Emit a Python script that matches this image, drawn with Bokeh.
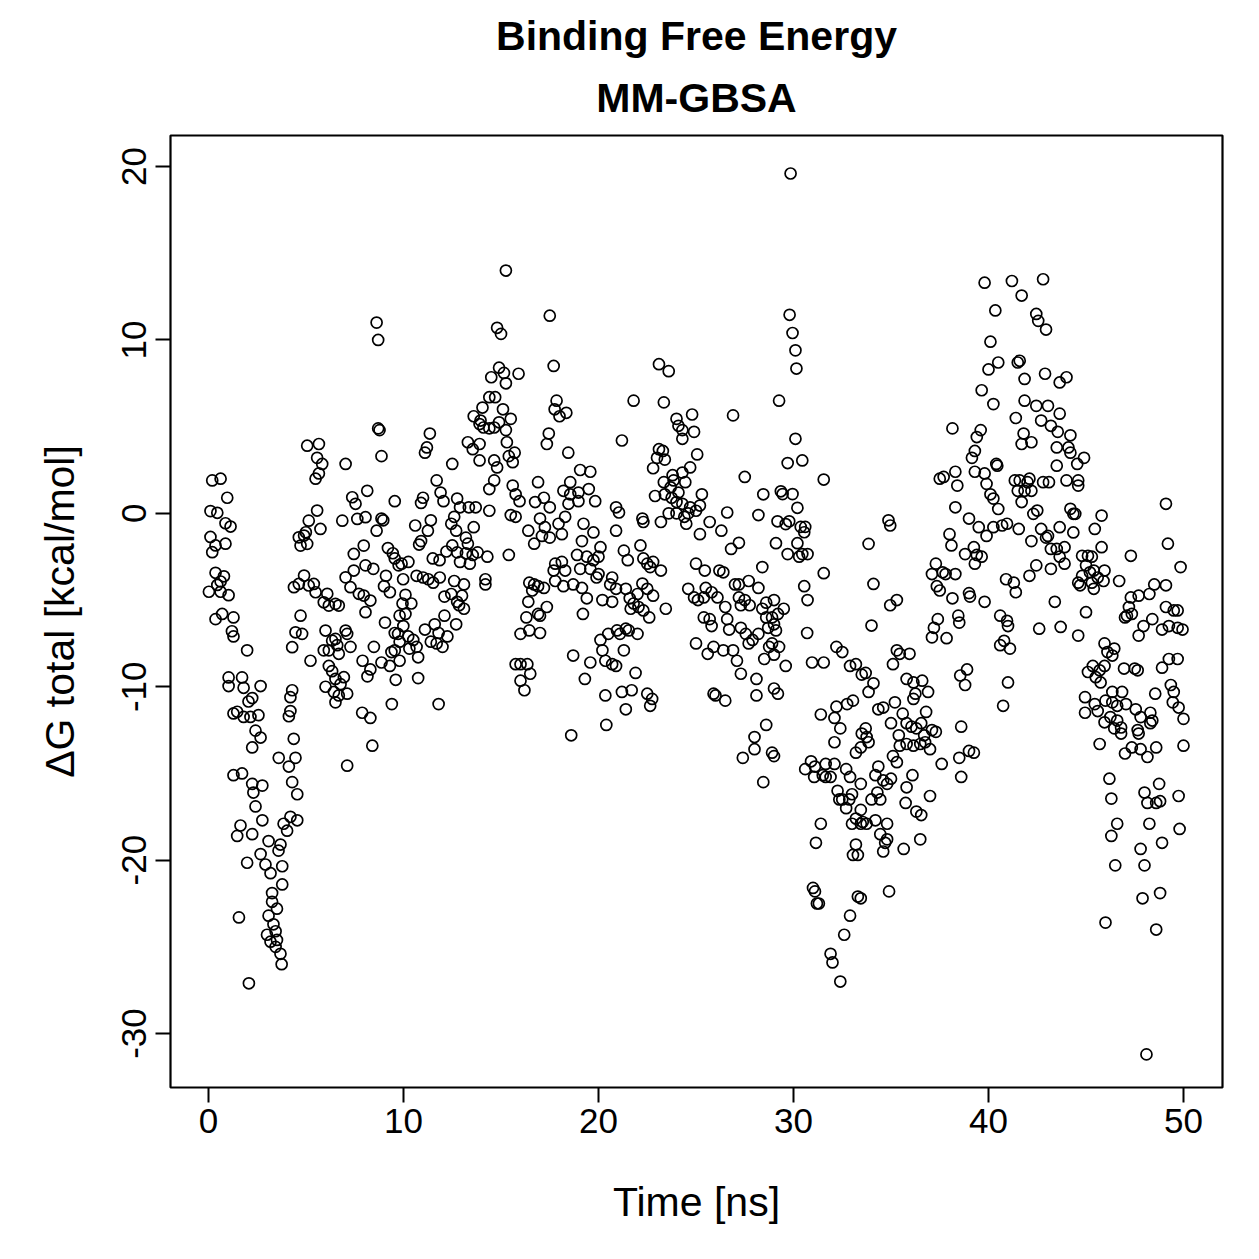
from bokeh.plotting import figure
from bokeh.models import Range1d, FixedTicker, Title, ColumnDataSource
from bokeh.embed import file_html
from bokeh.resources import INLINE

# (time [ns], dG total [kcal/mol]), grouped by 10 ns
seg_00_10 = [
    (0.19, 1.9), (0.62, 2.0), (0.96, 0.9), (0.10, 0.13), (0.45, 0.03), (0.87, -0.57), (1.13, -0.76), (0.10, -1.36),
    (0.36, -1.85), (0.87, -1.75), (0.19, -2.24), (0.36, -3.43), (0.79, -3.63), (0.62, -3.93), (0.45, -4.13),
    (0.02, -4.52), (1.03, -4.72), (0.62, -4.52), (0.36, -6.1), (0.70, -5.8), (1.28, -6.0), (1.20, -6.8), (1.28, -7.1),
    (1.98, -7.9), (1.03, -9.46), (1.72, -9.46), (2.67, -9.96), (1.03, -9.96), (1.80, -10.06), (2.24, -10.65),
    (2.05, -10.85), (1.47, -11.44), (1.28, -11.54), (1.80, -11.74), (2.15, -11.74), (2.56, -11.64), (2.41, -12.53),
    (2.67, -12.93), (2.24, -13.5), (3.60, -14.1), (1.28, -15.1), (1.72, -15.0), (2.24, -15.6), (2.30, -16.1),
    (2.76, -15.7), (2.41, -16.9), (1.64, -18.0), (2.76, -17.7), (3.85, -17.9), (2.24, -18.5), (1.47, -18.6),
    (3.08, -18.9), (3.69, -19.1), (3.59, -19.45), (2.67, -19.65), (1.98, -20.15), (2.92, -20.25), (3.18, -20.75),
    (3.78, -20.35), (3.78, -21.4), (3.26, -21.9), (3.26, -22.4), (3.51, -22.8), (1.56, -23.3), (3.08, -23.2),
    (3.33, -23.7), (3.00, -24.3), (3.44, -24.1), (3.18, -24.7), (3.51, -24.6), (3.44, -25.0), (3.69, -25.4),
    (2.07, -27.1), (3.75, -26.0),
    (5.06, 3.9), (5.66, 4.0), (7.03, 2.85), (5.57, 3.2), (5.83, 2.85), (5.49, 2.0), (5.66, 2.3), (8.14, 1.3),
    (7.37, 0.93), (7.54, 0.55), (6.86, -0.42), (7.63, -0.32), (8.05, -0.22), (5.57, 0.16), (5.14, -0.42),
    (5.74, -0.9), (4.99, -1.09), (4.90, -1.28), (4.72, -1.86), (5.06, -1.76), (4.63, -1.38), (7.96, -1.86),
    (7.45, -2.34), (7.03, -3.69), (7.45, -3.3), (8.05, -3.0), (8.45, -3.2), (4.63, -4.07), (4.90, -3.59),
    (5.14, -4.16), (5.40, -4.07), (5.49, -4.55), (7.28, -4.26), (7.71, -4.64), (4.38, -4.26), (6.09, -4.64),
    (5.91, -5.13), (6.17, -5.32), (6.51, -5.22), (6.68, -5.32), (7.96, -4.74), (8.30, -5.03), (8.05, -5.7),
    (4.72, -5.9), (4.46, -6.86), (4.80, -6.95), (4.29, -7.72), (5.23, -8.5), (6.00, -6.76), (6.34, -7.34),
    (6.51, -7.24), (7.03, -6.76), (7.11, -6.95), (5.91, -7.9), (6.17, -7.9), (6.60, -7.6), (6.68, -8.1),
    (7.28, -7.7), (8.48, -7.7), (6.17, -8.8), (6.51, -9.55), (6.94, -9.45), (6.77, -9.85), (6.00, -10.0),
    (6.43, -10.3), (6.68, -10.5), (6.51, -10.9), (7.11, -10.4), (6.34, -9.1), (7.90, -8.5), (8.30, -9.0),
    (8.15, -9.4), (8.40, -13.4), (7.11, -14.55), (4.29, -10.2), (4.20, -10.6), (4.20, -11.4), (4.12, -11.7),
    (4.37, -13.0), (4.46, -14.1), (4.12, -14.6), (4.29, -15.5), (4.55, -16.2), (4.20, -17.5), (4.55, -17.7),
    (4.03, -18.3), (7.88, -11.5), (8.30, -11.8),
    (8.62, 11.0), (8.70, 10.0), (8.70, 4.9), (8.77, 4.8), (8.87, 3.3), (9.55, 0.7), (8.87, -0.3), (8.96, -0.4),
    (8.62, -1.0), (9.20, -2.0), (9.45, -2.3), (9.55, -2.6), (9.90, -2.9), (9.75, -3.0), (9.10, -3.6), (9.00, -4.2),
    (9.30, -4.55), (9.98, -3.8), (9.95, -5.2), (9.80, -5.9), (9.99, -6.5), (9.05, -6.3), (9.55, -6.9), (9.72, -6.95),
    (9.80, -7.4), (9.55, -7.9), (9.38, -8.0), (8.87, -8.6), (9.30, -8.8), (9.80, -8.5), (9.60, -9.6), (9.40, -11.0),
]

seg_10_20 = [
    (10.25, -2.8), (10.67, -3.6), (11.0, -3.7), (11.27, -3.8), (11.52, -4.0), (11.86, -3.7), (10.1, -4.7),
    (10.4, -5.2), (10.1, -5.8), (10.24, -7.1), (10.5, -7.3), (10.67, -7.7), (10.3, -7.8), (10.75, -8.3),
    (10.75, -9.5), (11.8, -11.0), (11.35, 4.6), (11.2, 3.8), (11.1, 3.5), (11.7, 1.9), (11.9, 1.2), (12.05, 0.7),
    (11.0, 0.9), (10.9, 0.6), (11.4, -0.4), (10.6, -0.7), (10.9, -1.6), (10.8, -1.8), (11.25, -1.0), (11.5, -2.6),
    (11.85, -2.7), (12.2, -2.2), (12.1, -5.9), (12.1, -4.8), (11.6, -6.4), (11.8, -6.9), (11.1, -6.7), (11.4, -7.4),
    (11.7, -7.5), (12.0, -7.7),
    (15.25, 14.0), (14.8, 10.7), (15.0, 10.35), (14.9, 8.4), (14.5, 7.85), (15.15, 8.1), (15.25, 7.5), (15.9, 8.05),
    (14.4, 6.7), (14.7, 6.7), (14.05, 6.1), (15.1, 6.0), (13.6, 5.6), (13.95, 5.35), (14.1, 4.95), (14.4, 4.9),
    (14.65, 4.95), (14.9, 5.25), (15.5, 5.45), (15.25, 4.8), (13.9, 5.15), (15.3, 4.1), (13.3, 4.1), (13.55, 3.7),
    (13.9, 4.0), (13.9, 3.05), (15.7, 3.5), (15.4, 3.3), (15.6, 2.95), (14.65, 3.05), (14.8, 2.65), (14.65, 1.9),
    (14.4, 1.4), (15.6, 1.6), (15.75, 1.1), (15.95, 0.7), (15.5, -0.1), (15.75, -0.2), (12.5, 2.85), (12.75, 0.85),
    (12.9, 0.35), (13.35, 0.35), (13.7, 0.35), (14.4, 0.15), (12.6, -0.2), (12.45, -0.6), (12.7, -1.0), (13.6, -0.8),
    (13.2, -1.4), (13.3, -1.75), (12.5, -1.85), (12.75, -2.25), (13.2, -2.3), (13.55, -2.4), (13.8, -2.25),
    (14.3, -2.5), (15.4, -2.4), (12.9, -2.8), (13.4, -2.9), (16.45, -4.0), (16.7, -4.1), (16.6, -4.45), (14.2, -3.8),
    (14.2, -4.1), (12.6, -3.9), (13.1, -4.1), (12.45, -4.65), (13.0, -4.75), (12.75, -5.1), (12.85, -5.3),
    (13.1, -5.5), (12.7, -6.4), (12.25, -7.1), (16.4, -5.1), (16.3, -6.0), (16.9, -5.8), (16.0, -6.95),
    (16.45, -6.75), (15.75, -8.7), (16.0, -8.7), (16.35, -8.7), (16.5, -9.25), (16.0, -9.65), (16.2, -10.2),
    (16.4, -1.0),
    (17.5, 11.4), (17.7, 8.5), (17.85, 6.5), (17.75, 6.0), (18.0, 5.6), (18.35, 5.8), (17.45, 4.6), (17.35, 4.0),
    (18.45, 3.5), (16.75, 0.65), (17.2, 0.9), (17.5, 0.35), (17.0, -0.3), (17.25, -0.8), (19.06, 2.5), (19.58, 2.4),
    (18.55, 1.8), (18.2, 1.3), (18.55, 1.1), (18.97, 1.2), (19.5, 1.4), (19.83, 0.7), (18.97, 0.7), (18.46, 0.55),
    (18.29, -0.2), (19.23, -0.6), (19.74, -1.1), (17.95, -0.6), (18.12, -1.2), (16.9, 1.8), (16.7, -1.75),
    (17.1, -1.3), (17.5, -1.4), (19.15, -1.6), (18.9, -2.4), (19.4, -2.5), (19.74, -2.7), (19.58, -3.2),
    (19.9, -3.7), (17.78, -2.9), (18.12, -2.8), (17.7, -3.3), (18.29, -3.3), (19.06, -3.2), (16.9, -4.2),
    (17.2, -4.3), (17.78, -3.9), (18.2, -4.2), (18.7, -4.1), (19.15, -4.3), (19.4, -4.9), (17.0, -5.9),
    (17.35, -5.4), (17.0, -6.9), (19.2, -5.8), (18.7, -8.2), (19.58, -8.6), (19.3, -9.55), (18.6, -12.8),
]

seg_20_30 = [
    (20.1, -1.95), (20.0, -2.5), (20.0, -3.5), (20.2, -5.0), (20.6, -4.1), (20.7, -5.1), (20.1, -7.3),
    (20.5, -6.95), (20.2, -7.9), (20.35, -8.5), (20.35, -10.5), (20.4, -12.2),
    (23.1, 8.6), (23.6, 8.2), (21.8, 6.5), (23.35, 6.4), (24.0, 5.45), (24.8, 5.7), (24.1, 5.05), (24.3, 4.8),
    (24.9, 4.7), (24.3, 4.3), (21.2, 4.2), (23.1, 3.7), (23.3, 3.6), (23.0, 3.2), (23.4, 3.1), (22.8, 2.6),
    (24.7, 2.65), (24.3, 2.35), (23.8, 2.2), (23.85, 1.9), (24.45, 1.8), (23.35, 1.8), (23.7, 1.5), (24.1, 1.2),
    (23.4, 1.1), (23.75, 0.9), (22.9, 1.0), (24.0, 0.65), (24.3, 0.55), (24.7, 0.35), (23.6, 0.0), (24.0, 0.0),
    (24.4, -0.2), (24.6, 0.0), (24.5, -0.6), (23.2, -0.5), (20.9, 0.35), (21.05, 0.05), (20.9, -1.0),
    (22.25, -0.3), (22.3, -0.5), (22.15, -1.85), (21.3, -2.15), (21.5, -2.7), (22.3, -2.6), (22.5, -2.9),
    (22.8, -2.8), (22.65, -3.1), (23.2, -3.3), (20.7, -3.7), (20.9, -4.35), (21.4, -4.35), (21.6, -4.9),
    (22.0, -4.65), (22.25, -4.05), (22.5, -4.35), (22.8, -4.75), (21.8, -5.2), (22.05, -5.4), (21.65, -5.5),
    (22.3, -5.6), (22.6, -6.0), (23.45, -5.5), (20.95, -6.75), (21.1, -6.95), (21.4, -6.65), (21.55, -6.75),
    (22.0, -6.95), (21.3, -7.9), (20.7, -8.7), (20.9, -8.8), (21.9, -9.2), (21.2, -10.3), (21.7, -10.2),
    (22.5, -10.4), (22.75, -10.7), (22.65, -11.1), (21.4, -11.3), (24.6, -4.35), (24.9, -4.85),
    (25.06, 3.4), (26.9, 5.65), (27.5, 2.1), (28.45, 1.1), (25.3, 1.1), (25.2, 0.45), (25.0, 0.15), (25.7, -0.5),
    (26.3, -1.0), (26.6, 0.05), (25.2, -1.2), (28.2, -0.1), (27.2, -1.7), (26.8, -2.05), (28.4, -3.1), (25.0, -2.9),
    (25.45, -3.3), (26.2, -3.3), (26.4, -3.4), (27.0, -4.1), (27.2, -4.1), (27.7, -3.9), (28.2, -4.3), (25.5, -4.3),
    (25.8, -4.55), (25.4, -4.85), (26.1, -4.85), (25.1, -5.0), (26.5, -5.4), (27.2, -4.85), (27.5, -5.0),
    (27.75, -5.3), (28.4, -5.5), (28.6, -5.15), (29.0, -5.0), (28.9, -6.0), (28.6, -6.0), (27.3, -5.3), (25.4, -6.0),
    (25.7, -6.1), (25.8, -6.5), (26.6, -6.1), (26.7, -6.7), (27.3, -6.6), (27.55, -6.95), (27.7, -7.5), (27.9, -7.3),
    (28.2, -6.95), (28.75, -7.7), (28.9, -7.5), (28.7, -6.6), (25.0, -7.5), (25.6, -8.1), (25.9, -7.7), (26.4, -7.9),
    (26.9, -7.9), (27.1, -8.5), (27.3, -9.25), (28.1, -9.55), (28.5, -8.4), (25.9, -10.4), (26.0, -10.5),
    (26.5, -10.8), (28.1, -10.5), (29.0, -10.1), (28.6, -12.2), (28.0, -12.9), (28.0, -13.6), (28.9, -13.8),
    (27.4, -14.1), (28.45, -15.5),
    (29.85, 19.6), (29.8, 11.45), (29.95, 10.4), (29.26, 6.5), (29.7, 2.9), (29.35, 1.27), (29.44, 1.11),
    (29.95, 1.11), (29.18, -0.46), (29.6, -0.62), (29.78, -0.46), (29.1, -1.72), (29.7, -2.35), (29.5, -5.5),
    (29.2, -5.8), (29.0, -6.4), (29.1, -6.75), (29.26, -7.7), (29.0, -8.15), (29.6, -8.8), (29.2, -10.4),
    (29.0, -14.0),
]

seg_30_40 = [
    (30.1, 9.4), (30.15, 8.35), (30.1, 4.3), (30.45, 3.05), (31.55, 1.95), (30.2, 0.32), (30.6, -0.78),
    (30.37, -0.78), (30.55, -1.09), (30.2, -1.72), (30.29, -2.5), (30.45, -2.35), (30.72, -2.35), (31.55, -3.45),
    (30.55, -4.2), (30.72, -5.0), (30.7, -6.9), (32.2, -7.7), (32.5, -8.0), (32.9, -8.8), (30.95, -8.6),
    (31.55, -8.6), (33.5, -9.3), (32.2, -11.15), (32.1, -11.8), (32.75, -11.0), (31.4, -11.6), (32.4, -12.4),
    (32.1, -13.2), (33.5, -12.7), (33.45, -13.5), (30.9, -14.3), (30.6, -14.75), (31.1, -14.6), (31.65, -14.45),
    (31.06, -15.2), (31.5, -15.1), (31.65, -15.2), (31.9, -15.2), (32.1, -14.45), (33.2, -13.8), (32.7, -14.75),
    (32.9, -15.2), (32.26, -16.0), (32.5, -16.5), (32.35, -16.5), (32.86, -16.5), (33.0, -16.2), (32.7, -17.0),
    (33.45, -17.1), (33.2, -17.6), (33.0, -17.9), (33.45, -17.9), (31.4, -17.9), (31.15, -19.0), (31.0, -21.6),
    (31.1, -21.8), (31.2, -22.5), (31.3, -22.5), (33.3, -22.1), (33.45, -22.2), (32.9, -23.2), (32.6, -24.3),
    (31.9, -25.4), (32.0, -25.9), (32.4, -27.0),
    (34.87, -0.4), (34.96, -0.7), (33.85, -1.76), (34.1, -4.07), (34.96, -5.3), (35.3, -5.0), (34.0, -6.47),
    (37.3, -2.9), (37.1, -3.5), (37.35, -4.2), (37.5, -4.45), (37.4, -6.1), (37.2, -6.6), (37.1, -7.15),
    (35.3, -7.9), (35.45, -8.1), (35.95, -8.1), (35.1, -8.7), (33.7, -9.2), (33.2, -8.7), (34.1, -9.8),
    (33.85, -10.3), (34.35, -11.3), (34.6, -11.2), (33.05, -10.8), (35.8, -9.55), (36.15, -9.75), (36.6, -9.65),
    (36.9, -10.3), (36.25, -10.4), (36.15, -10.7), (35.2, -10.9), (35.6, -11.55), (36.8, -11.45), (35.0, -12.1),
    (35.4, -12.8), (35.8, -12.1), (36.05, -12.3), (36.3, -12.4), (36.55, -12.1), (36.7, -12.8), (37.1, -12.5),
    (37.3, -12.6), (35.8, -13.3), (36.15, -13.4), (36.5, -13.3), (36.75, -13.2), (37.0, -13.6), (35.45, -13.4),
    (37.6, -14.45), (35.1, -14.0), (35.3, -14.35), (33.7, -12.4), (33.75, -12.9), (33.85, -13.2), (34.35, -14.6),
    (34.2, -15.1), (34.6, -15.4), (34.8, -15.6), (35.0, -15.3), (36.1, -15.1), (35.8, -15.8), (35.75, -16.7),
    (34.3, -16.1), (34.0, -16.5), (34.45, -16.5), (33.45, -15.6), (37.0, -16.3), (36.3, -17.2), (36.55, -17.4),
    (33.55, -17.8), (33.75, -17.9), (34.2, -17.7), (34.8, -17.9), (34.45, -18.5), (34.8, -18.8), (34.7, -19.0),
    (34.6, -19.5), (35.65, -19.35), (36.5, -18.8), (33.2, -19.1), (33.05, -19.7), (33.3, -19.7), (34.9, -21.8),
    (39.8, 13.3), (38.15, 4.9), (39.6, 4.8), (39.4, 4.4), (39.3, 3.6), (39.15, 3.2), (37.5, 2.0), (37.7, 2.1),
    (38.3, 2.4), (38.4, 1.6), (39.3, 2.4), (39.8, 2.3), (39.9, 1.7), (39.65, 7.1), (38.3, 0.35), (39.0, -0.3),
    (39.5, -0.8), (39.9, -1.3), (38.0, -1.2), (38.1, -1.85), (38.8, -2.35), (39.25, -1.95), (39.4, -2.4),
    (39.3, -2.9), (39.65, -2.5), (37.65, -3.4), (37.8, -3.5), (38.3, -3.5), (38.15, -4.9), (39.0, -4.6),
    (39.05, -4.8), (39.8, -5.1), (37.85, -7.2), (38.45, -5.9), (38.5, -6.3), (38.9, -9.0), (38.55, -9.35),
    (38.8, -9.9), (38.6, -12.3), (39.0, -13.7), (39.25, -13.8), (38.5, -14.1), (38.6, -15.2),
]

seg_40_50 = [
    (41.2, 13.4), (41.7, 12.56), (40.35, 11.7), (40.1, 9.9), (40.0, 8.3), (40.5, 8.7), (41.5, 8.7), (40.25, 6.3),
    (41.4, 5.5), (41.8, 4.6), (40.4, 2.85), (40.45, 2.75), (40.1, 1.1), (40.25, 0.85), (40.5, 0.25), (41.35, 1.9),
    (41.5, 1.3), (41.7, 0.65), (40.25, -0.8), (40.7, -0.7), (40.95, -0.6), (41.55, -0.9), (40.9, -3.8),
    (41.3, -4.0), (41.4, -4.55), (40.6, -5.9), (40.95, -6.2), (41.0, -6.5), (40.8, -7.35), (40.6, -7.6),
    (41.1, -7.8), (41.0, -9.75), (40.75, -11.1),
    (42.8, 13.5), (42.45, 11.5), (42.55, 11.1), (42.95, 10.6), (41.6, 8.8), (42.9, 8.05), (43.65, 7.55),
    (44.0, 7.85), (41.85, 7.75), (41.85, 6.5), (42.45, 6.2), (43.05, 6.2), (42.7, 5.35), (43.2, 5.05), (43.55, 4.7),
    (43.65, 5.75), (41.7, 4.0), (42.2, 4.1), (43.5, 3.8), (44.1, 3.8), (44.2, 3.5), (44.2, 4.5), (44.55, 2.85),
    (44.9, 3.2), (43.5, 2.75), (41.6, 1.9), (42.1, 2.0), (42.0, 1.8), (42.8, 1.8), (43.1, 1.8), (44.0, 1.9),
    (44.6, 1.9), (44.6, 1.6), (42.2, 1.3), (41.85, 1.3), (42.3, -0.03), (42.5, 0.16), (44.2, 0.26), (44.35, -0.03),
    (44.45, -0.03), (45.8, -0.13), (45.45, -0.9), (45.8, -1.95), (42.2, -1.6), (42.7, -0.9), (43.05, -1.3),
    (42.95, -1.4), (43.65, -0.8), (44.35, -1.1), (43.2, -2.05), (43.5, -2.05), (43.9, -1.95), (43.65, -2.5),
    (43.9, -2.9), (43.2, -3.2), (42.45, -3.0), (42.1, -3.6), (44.8, -2.45), (45.1, -2.45), (45.3, -2.5),
    (45.0, -3.0), (45.4, -3.3), (45.2, -3.4), (44.8, -3.6), (44.6, -4.0), (44.7, -4.15), (45.3, -4.0),
    (45.4, -4.35), (45.9, -3.9), (45.6, -3.7), (43.4, -5.1), (45.0, -5.7), (42.6, -6.65), (43.7, -6.55),
    (44.6, -7.05), (45.35, -8.8), (45.7, -9.05), (45.95, -8.8), (45.1, -9.15), (45.5, -9.45), (44.95, -10.6),
    (45.45, -11.0), (45.6, -11.4), (44.95, -11.5), (45.95, -12.05),
    (49.1, 0.55), (49.2, -1.75), (47.3, -2.45), (49.85, -3.1), (45.95, -3.3), (46.7, -3.9), (48.5, -4.1),
    (49.1, -4.15), (48.25, -4.65), (47.7, -4.75), (47.3, -4.85), (47.2, -5.4), (47.1, -5.9), (47.0, -6.0),
    (47.35, -5.8), (49.1, -5.4), (49.5, -5.6), (49.7, -5.6), (48.4, -6.1), (47.95, -6.5), (47.7, -7.05),
    (48.9, -6.7), (49.25, -6.5), (49.7, -6.6), (49.95, -6.7), (45.95, -7.5), (46.1, -8.0), (46.45, -7.8),
    (46.35, -8.2), (46.95, -8.95), (47.5, -8.95), (47.65, -9.05), (48.9, -8.9), (49.25, -8.4), (49.7, -8.4),
    (45.75, -9.75), (46.35, -10.3), (46.85, -10.3), (46.0, -10.8), (46.35, -10.9), (46.6, -11.1), (47.05, -11.0),
    (49.35, -9.9), (49.5, -10.3), (49.45, -10.9), (49.75, -11.2), (50.0, -11.85), (48.55, -10.4), (47.55, -11.3),
    (48.3, -11.5), (48.4, -11.95), (48.3, -12.1), (47.8, -11.75), (46.25, -11.75), (46.6, -11.95), (46.8, -12.35),
    (46.45, -12.4), (46.8, -12.7), (47.65, -12.5), (47.7, -12.7), (45.7, -13.3), (47.0, -13.85), (47.35, -13.5),
    (47.8, -13.6), (48.15, -14.05), (48.6, -13.5), (46.2, -15.3), (46.3, -16.45), (48.75, -15.6), (48.0, -16.1),
    (48.15, -16.7), (48.6, -16.7), (48.8, -16.6), (49.75, -16.3), (46.6, -17.9), (48.25, -17.9), (46.3, -18.6),
    (47.8, -19.35), (48.9, -19.0), (46.5, -20.3), (48.0, -20.3), (48.1, -31.2), (46.0, -23.6), (47.9, -22.2),
    (48.6, -24.0), (48.8, -21.9), (49.8, -18.2), (50.0, -13.4),
]

x_ticks = [0, 10, 20, 30, 40, 50]
y_ticks = [-30, -20, -10, 0, 10, 20]
y_tick_labels = {-30: "-30", -20: "-20", -10: "-10", 0: "0", 10: "10", 20: "20"}
title_main = "Binding Free Energy"
title_sub = "MM-GBSA"

points = seg_00_10 + seg_10_20 + seg_20_30 + seg_30_40 + seg_40_50
source = ColumnDataSource(data=dict(time=[pt[0] for pt in points], dg=[pt[1] for pt in points]))

FONT = "Liberation Sans"

p = figure(width=1259, height=1259, output_backend="svg", toolbar_location=None,
           x_range=Range1d(-1.95, 52.0), y_range=Range1d(-33.11, 21.79),
           min_border_left=170, min_border_right=37, min_border_top=135, min_border_bottom=172,
           background_fill_color="white", border_fill_color="white")

p.scatter(x="time", y="dg", source=source, marker="circle", size=11,
          fill_color=None, line_color="black", line_width=1.7)

p.grid.visible = False
p.outline_line_color = "black"
p.outline_line_width = 2.2

for ax in (p.xaxis[0], p.yaxis[0]):
    ax.axis_line_color = None
    ax.major_tick_out = 15
    ax.major_tick_in = 0
    ax.minor_tick_line_color = None
    ax.major_tick_line_color = "black"
    ax.major_tick_line_width = 2
    ax.major_label_text_font = FONT
    ax.major_label_text_font_size = "35px"
    ax.major_label_text_color = "black"
    ax.axis_label_text_font = FONT
    ax.axis_label_text_font_size = "41px"
    ax.axis_label_text_font_style = "normal"
    ax.axis_label_text_color = "black"

p.xaxis.ticker = FixedTicker(ticks=x_ticks)
p.xaxis.axis_label = "Time [ns]"
p.xaxis.major_label_standoff = 6
p.xaxis.axis_label_standoff = 43

p.yaxis.ticker = FixedTicker(ticks=y_ticks)
p.yaxis.major_label_overrides = y_tick_labels
p.yaxis.major_label_orientation = "vertical"
p.yaxis.axis_label = "\u0394G total [kcal/mol]"
p.yaxis.major_label_standoff = 9
p.yaxis.axis_label_standoff = 37

t2 = Title(text=title_sub, align="center", text_font=FONT, text_font_size="41px",
           text_font_style="bold", text_color="black", standoff=29)
t1 = Title(text=title_main, align="center", text_font=FONT, text_font_size="41px",
           text_font_style="bold", text_color="black", standoff=0)
p.add_layout(t2, "above")
p.add_layout(t1, "above")

open("out.html", "w").write(file_html(p, INLINE))
